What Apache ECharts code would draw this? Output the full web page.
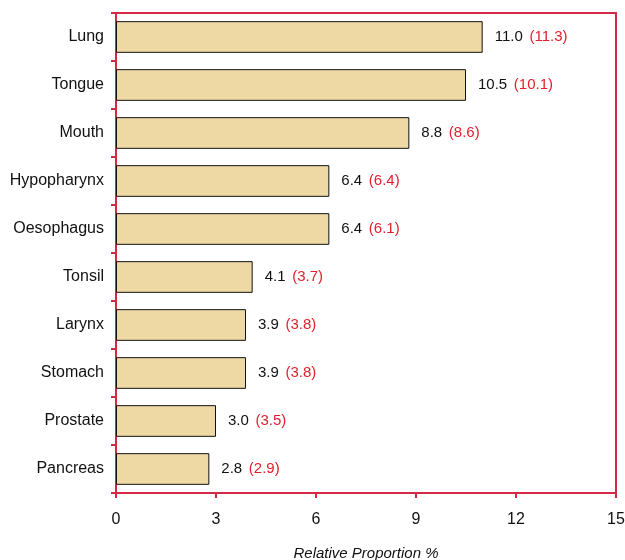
<!DOCTYPE html>
<html>
<head>
<meta charset="utf-8">
<script src="https://cdn.jsdelivr.net/npm/echarts@6/dist/echarts.min.js"></script>
<style>
  html, body { margin: 0; padding: 0; background: #fff; }
  #chart { width: 625px; height: 560px; }
</style>
</head>
<body>
<div id="chart"></div>
<script>
const sites = ['Lung', 'Tongue', 'Mouth', 'Hypopharynx', 'Oesophagus', 'Tonsil', 'Larynx', 'Stomach', 'Prostate', 'Pancreas'];
const proportions = [11.0, 10.5, 8.8, 6.4, 6.4, 4.1, 3.9, 3.9, 3.0, 2.8];
const otherProportions = [11.3, 10.1, 8.6, 6.4, 6.1, 3.7, 3.8, 3.8, 3.5, 2.9];
const xTicks = [0, 3, 6, 9, 12, 15];

const frameRed = '#d42a45';
const font = 'Liberation Sans, Arial, Helvetica, sans-serif';

const chart = echarts.init(document.getElementById('chart'), null, { renderer: 'canvas' });

chart.setOption({
  animation: false,
  grid: {
    left: 116, right: 9, top: 13, bottom: 67,
    outerBoundsMode: 'none',
    containLabel: false,
    show: true,
    borderColor: frameRed,
    borderWidth: 2,
  },
  xAxis: {
    type: 'value',
    min: xTicks[0],
    max: xTicks[xTicks.length - 1],
    interval: 3,
    name: 'Relative Proportion %',
    nameLocation: 'middle',
    nameGap: 53,
    nameTextStyle: { fontFamily: font, fontSize: 15, fontStyle: 'italic', color: '#111', verticalAlign: 'top' },
    axisLine: { show: true, lineStyle: { color: frameRed, width: 2 } },
    axisTick: { show: true, length: 5, lineStyle: { color: frameRed, width: 2 } },
    axisLabel: { fontFamily: font, fontSize: 16, color: '#111', margin: 19 },
    splitLine: { show: false },
  },
  yAxis: {
    type: 'category',
    inverse: true,
    data: sites,
    axisLine: { show: true, lineStyle: { color: frameRed, width: 2 } },
    axisTick: { show: true, length: 5, lineStyle: { color: frameRed, width: 2 } },
    axisLabel: { fontFamily: font, fontSize: 16, color: '#111', margin: 12 },
  },
  series: [{
    type: 'bar',
    data: proportions,
    barWidth: '66%',
    itemStyle: { color: '#eed9a4', borderColor: '#111', borderWidth: 1 },
    label: {
      show: true,
      position: 'right',
      distance: 12,
      formatter: (p) => `{a|${proportions[p.dataIndex].toFixed(1)}}  {b|(${otherProportions[p.dataIndex].toFixed(1)})}`,
      rich: {
        a: { fontFamily: font, fontSize: 15, color: '#111' },
        b: { fontFamily: font, fontSize: 15, color: '#e0202e' },
      },
    },
  }],
});
</script>
</body>
</html>
